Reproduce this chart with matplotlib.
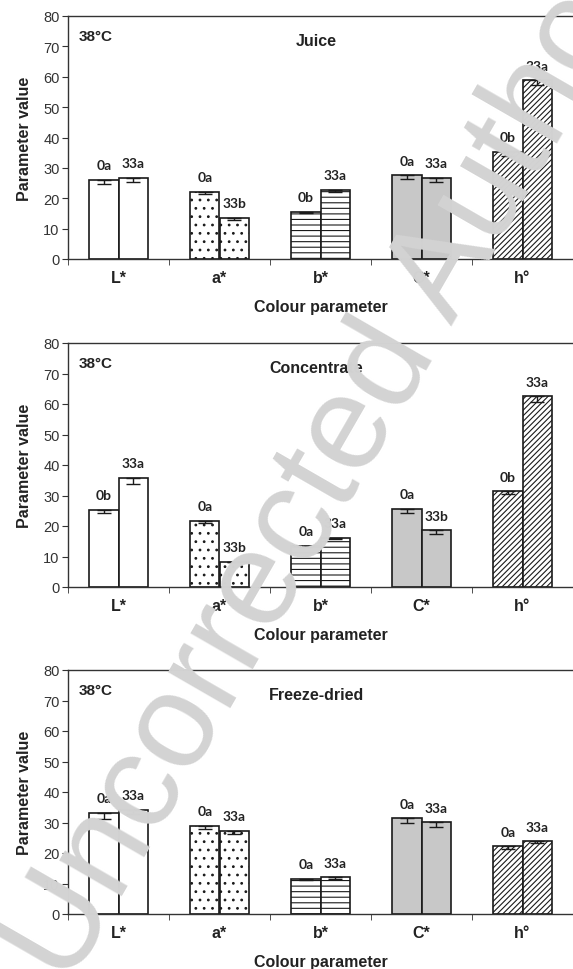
import matplotlib
matplotlib.use("Agg")
import matplotlib.pyplot as plt

params = ['L*', 'a*', 'b*', 'C*', 'h°']
panels = ['Juice', 'Concentrate', 'Freeze-dried']

# bar heights, day 0 and day 33
juice_0 = [26.0, 22.1, 15.6, 27.5, 35.3]
juice_33 = [26.7, 13.5, 22.7, 26.7, 58.8]
conc_0 = [25.3, 21.7, 13.5, 25.6, 31.4]
conc_33 = [35.8, 8.3, 16.2, 18.6, 62.5]
fd_0 = [33.1, 29.0, 11.6, 31.4, 22.2]
fd_33 = [34.1, 27.3, 12.0, 30.1, 23.9]

# error bars (only the lower half is visible)
juice_0_err = [1.2, 0.8, 0.6, 1.3, 1.3]
juice_33_err = [1.2, 0.6, 0.6, 1.3, 1.5]
conc_0_err = [1.2, 0.8, 0.4, 1.2, 1.0]
conc_33_err = [2.0, 0.2, 0.5, 1.2, 2.0]
fd_0_err = [2.0, 1.0, 0.3, 1.5, 1.0]
fd_33_err = [1.3, 1.0, 0.4, 1.5, 0.6]

# significance letters
juice_0_lbl = ['0a', '0a', '0b', '0a', '0b']
juice_33_lbl = ['33a', '33b', '33a', '33a', '33a']
conc_0_lbl = ['0b', '0a', '0a', '0a', '0b']
conc_33_lbl = ['33a', '33b', '33a', '33b', '33a']
fd_0_lbl = ['0a', '0a', '0a', '0a', '0a']
fd_33_lbl = ['33a', '33a', '33a', '33a', '33a']

fills = ['white', 'white', 'white', '#c8c8c8', 'white']
hatches = [None, '..', '---', None, '//////']

plt.rcParams['font.family'] = ['Liberation Sans', 'DejaVu Sans']
plt.rcParams['hatch.linewidth'] = 0.8

fig = plt.figure(figsize=(5.73, 9.70), dpi=100)
W, H = 573.0, 970.0
left = 68.0
step = 102.4  # px per category
boxes = [(17, 260), (344, 588), (671, 915)]  # top, bottom in px

data = [
    (juice_0, juice_33, juice_0_err, juice_33_err, juice_0_lbl, juice_33_lbl),
    (conc_0, conc_33, conc_0_err, conc_33_err, conc_0_lbl, conc_33_lbl),
    (fd_0, fd_33, fd_0_err, fd_33_err, fd_0_lbl, fd_33_lbl),
]

bw = 0.29
x = list(range(len(params)))
for (top, bot), name, (v0, v33, e0, e33, l0, l33) in zip(boxes, panels, data):
    ax = fig.add_axes([left / W, 1 - bot / H, 1 - left / W, (bot - top) / H])
    for vals, errs, lbls, off in [(v0, e0, l0, -bw / 2), (v33, e33, l33, bw / 2)]:
        pos = [i + off for i in x]
        bars = ax.bar(pos, vals, bw, color=fills, edgecolor='#1a1a1a', linewidth=1.2, zorder=2)
        for b, h in zip(bars, hatches):
            if h:
                b.set_hatch(h)
        ax.errorbar(pos, vals, yerr=[errs, [0] * len(errs)], fmt='none', ecolor='#1a1a1a',
                    elinewidth=1, capsize=5, capthick=1, zorder=3)
        for p, v, t in zip(pos, vals, lbls):
            ax.annotate(t, (p, v), xytext=(0, 10.5), textcoords='offset points', ha='center',
                        va='center', fontsize=10, fontweight='bold', family='Lato', color='#222222')
    ax.set_xlim(-0.5, -0.5 + (W - left) / step)
    ax.set_ylim(0, 80)
    ax.set_yticks(range(0, 81, 10))
    ax.set_xticks(x)
    ax.set_xticklabels(params, fontsize=11.5, fontweight='bold')
    ax.set_xticks([i - 0.5 for i in range(len(params) + 1)], minor=True)
    ax.tick_params(axis='x', which='major', length=0, pad=8, colors='#222222')
    ax.tick_params(axis='x', which='minor', length=4, direction='out', color='#333333')
    ax.tick_params(axis='y', length=4, direction='out', labelsize=10.5, colors='#333333', pad=2)
    for s in ['left', 'bottom', 'top']:
        ax.spines[s].set_color('#333333')
        ax.spines[s].set_linewidth(1)
    ax.spines['right'].set_visible(False)
    ax.set_xlabel('Colour parameter', fontsize=11.5, fontweight='bold', labelpad=10, color='#222222')
    ax.set_ylabel('Parameter value', fontsize=11.5, fontweight='bold', labelpad=8, color='#222222')
    ax.text(0.022, 1 - 20 / (bot - top), '38°C', transform=ax.transAxes, fontsize=11,
            fontweight='bold', va='center', color='#222222')
    ax.text(1.96, 80 - 25 * 80 / (bot - top), name, fontsize=11.5, fontweight='bold',
            ha='center', va='center', color='#222222')

fig.text(360 / W, 1 - 485 / H, 'Uncorrected Author', rotation=60, rotation_mode='anchor',
         fontsize=97, color='#d3d3d3', ha='center', va='baseline', zorder=10)

fig.savefig('out.png', dpi=100)
